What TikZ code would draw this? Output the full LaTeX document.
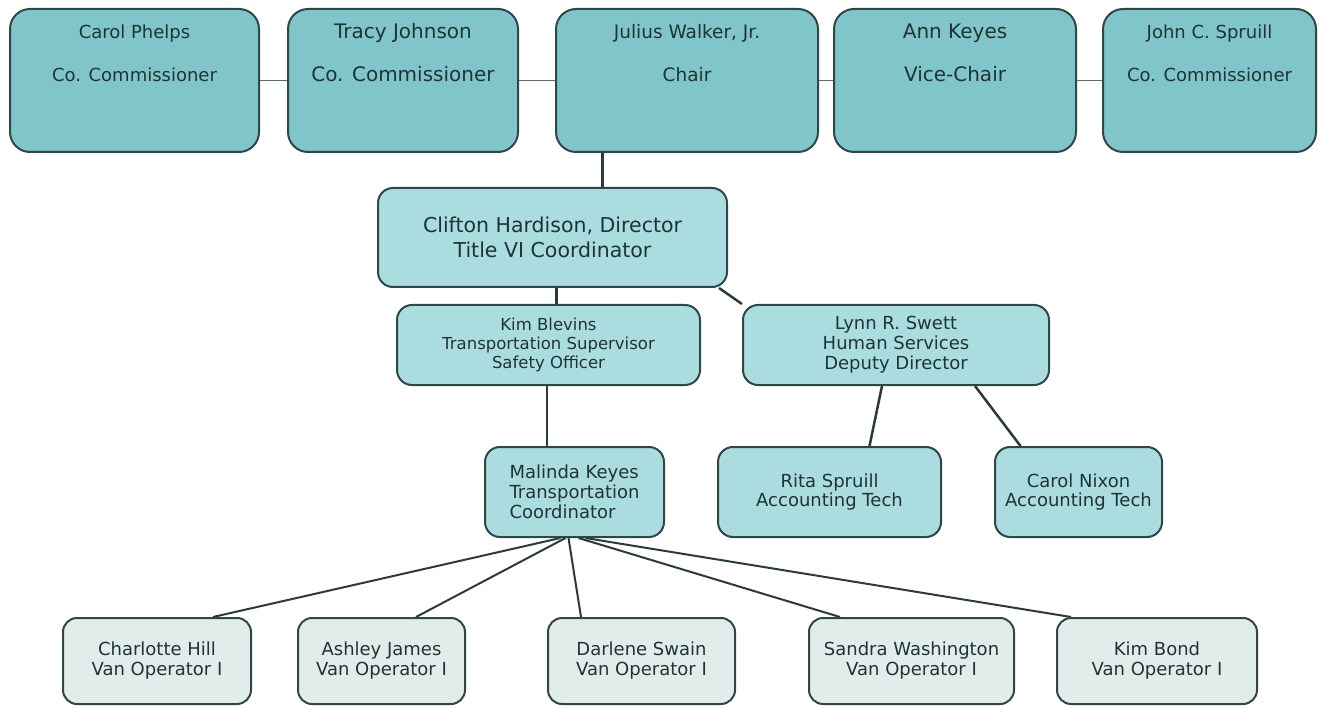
\documentclass[tikz,border=0pt]{standalone}
\usepackage{fontspec}
\setmainfont{DejaVu Sans}
\usetikzlibrary{calc,backgrounds}
\definecolor{boxline}{HTML}{2F4747}
\definecolor{topfill}{HTML}{80C5C9}
\definecolor{midfill}{HTML}{ABDDE0}
\definecolor{lowfill}{HTML}{E2EDEB}
\definecolor{inktext}{HTML}{1F3434}
\definecolor{wireline}{HTML}{2B3B3B}

\begin{document}
\begin{tikzpicture}[x=1pt, y=-1pt,
    every node/.style={text=inktext, inner sep=0pt},
    topbox/.style={draw=boxline, fill=topfill, line width=2pt, rounded corners=20pt, minimum height=143pt, minimum width=#1pt},
    midbox/.style={draw=boxline, fill=midfill, line width=2pt, rounded corners=15pt, align=center, minimum width=#1pt},
    lowbox/.style={draw=boxline, fill=lowfill, line width=2pt, rounded corners=14pt, align=center, minimum height=86pt, minimum width=#1pt, font=\fontsize{18}{20}\selectfont},
    wire/.style={draw=wireline, line width=2pt},
    thinwire/.style={draw=wireline!75, line width=1.5pt}]
            \useasboundingbox (0,0) rectangle (1319,708);
            % board of commissioners
            \node [topbox=249] (carolP) at (134.5,80.5) {};
            \node [topbox=230] (tracy)  at (403,80.5)   {};
            \node [topbox=262] (julius) at (687,80.5)   {};
            \node [topbox=242] (ann)    at (955,80.5)   {};
            \node [topbox=213] (john)   at (1209.5,80.5) {};
            \foreach \b/\s/\who/\job in {carolP/18/{Carol Phelps}/{Co. Commissioner},
                        tracy/20/{Tracy Johnson}/{Co. Commissioner},
                        julius/18.5/{Julius Walker, Jr.}/{Chair},
                        ann/20/{Ann Keyes}/{Vice-Chair},
                        john/18/{John C. Spruill}/{Co. Commissioner}} {
                        \node [anchor=base, font=\fontsize{\s}{\s}\selectfont] (\b-who) at ($(\b.north)+(0,31)$) {\who};
                        \node [anchor=base, font=\fontsize{\s}{\s}\selectfont] (\b-job) at ($(\b.north)+(0,74)$) {\job};
                    }
            % staff
            \node [midbox=349, minimum height=99pt, font=\fontsize{20.5}{25}\selectfont] (clifton) at (552.5,237.5) {Clifton Hardison, Director\\Title VI Coordinator};
            \node [midbox=303, minimum height=80pt, font=\fontsize{16.5}{19}\selectfont] (kim) at (548.5,345) {Kim Blevins\\Transportation Supervisor\\Safety Officer};
            \node [midbox=306, minimum height=80pt, font=\fontsize{18}{20}\selectfont] (lynn) at (896,345) {Lynn R. Swett\\Human Services\\Deputy Director};
            \node [midbox=179, minimum height=90pt, align=left, font=\fontsize{18}{20}\selectfont] (malinda) at (574.5,492) {Malinda Keyes\\Transportation\\Coordinator};
            \node [midbox=223, minimum height=90pt, font=\fontsize{18}{19}\selectfont] (rita) at (829.5,492) {Rita Spruill\\Accounting Tech};
            \node [midbox=167, minimum height=90pt, font=\fontsize{18}{19}\selectfont] (carolN) at (1078.5,492) {Carol Nixon\\Accounting Tech};
            \foreach \b/\x/\w/\who in {charlotte/157/188/{Charlotte Hill},
                        ashley/381.5/167/{Ashley James},
                        darlene/641.5/187/{Darlene Swain},
                        sandra/911.5/205/{Sandra Washington},
                        kimB/1157/200/{Kim Bond}} {
                        \node [lowbox=\w] (\b) at (\x,661) {\who\\Van Operator I};
                    }
            % connectors
            \begin{scope}[on background layer]
                \draw [thinwire] (carolP) -- (tracy);
                \draw [thinwire] (tracy) -- (julius);
                \draw [thinwire] (julius) -- (ann);
                \draw [thinwire] (ann) -- (john);
                \draw [wire, line width=3pt] (clifton.north) ++(49.5,0) coordinate (jc) -- (jc |- julius.south);
                \draw [wire, line width=3pt] (clifton.south) ++(4,0) coordinate (ck) -- (ck |- kim.north);
                \draw [wire, line width=2.5pt] ($(clifton.south east)+(-9,0)$) -- (lynn.north west);
                \draw [wire] (kim.south) ++(-2,0) coordinate (km) -- (km |- malinda.north);
                \draw [wire, line width=2.5pt] ($(lynn.south)+(-14,0)$) -- ($(rita.north)+(40,0)$);
                \draw [wire, line width=2.5pt] ($(lynn.south)+(79,0)$) -- ($(carolN.north)+(-58,0)$);
                \foreach \b/\s/\e in {charlotte/-14/56, ashley/-9/34.5, darlene/-6/-60.5, sandra/4/-71.5, kimB/11/-86} {
                            \draw [wire] ($(malinda.south)+(\s,0)$) -- ($(\b.north)+(\e,0)$);
                        }
            \end{scope}
        \end{tikzpicture}
\end{document}
